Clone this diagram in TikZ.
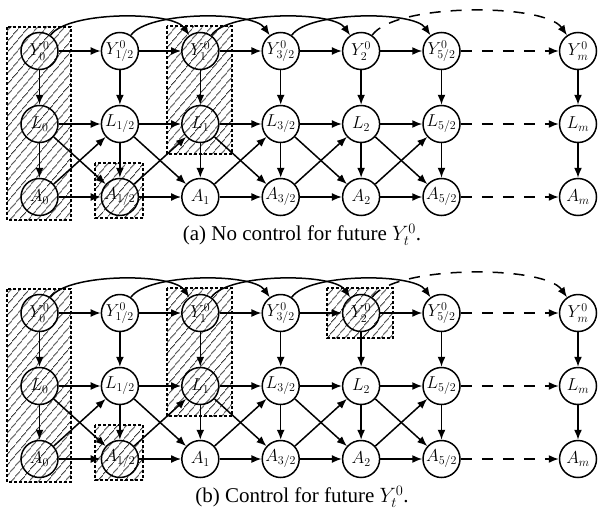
\documentclass[tikz,border=0pt]{standalone}
\usepackage{fontspec}
\setmainfont{Liberation Serif}
\usetikzlibrary{arrows.meta,patterns.meta}
\begin{document}
\begin{tikzpicture}[x=1pt,y=-1pt,
  vn/.style={circle,draw,line width=1.5pt,minimum size=37pt,inner sep=0pt,font=\fontsize{17}{17}\selectfont},
  arr/.style={line width=1.5pt,-{Latex[length=10pt,width=8pt]}},
  darr/.style={arr,dash pattern=on 11pt off 10pt},
  hatch/.style={draw,line width=1.1pt,dash pattern=on 3pt off 2pt,pattern={Lines[angle=50,distance=6.5pt,line width=1pt]},pattern color=black!80},
  captext/.style={font=\fontsize{21}{24}\selectfont}]
\useasboundingbox (0,0) rectangle (604,519);
% hatched regions
\foreach \o in {0,262}{
  \path[hatch] (7,27+\o) rectangle (71,220+\o);
  \path[hatch] (95,163+\o) rectangle (143,218+\o);
  \path[hatch] (167,26+\o) rectangle (232,154+\o);
}
\path[hatch] (327,288) rectangle (393,338);
% nodes
\foreach \p/\o in {a/0,b/262}{
  \foreach \k/\lab in {0/0,1/{1/2},2/1,3/{3/2},4/2,5/{5/2}}{
    \node[vn] (Y\p\k) at ({39.5+80.4*\k},{51+\o}) {$Y^0_{\lab}$};
    \node[vn] (L\p\k) at ({39.5+80.4*\k},{124+\o}) {$L_{\lab}$};
    \node[vn] (A\p\k) at ({39.5+80.4*\k},{197+\o}) {$A_{\lab}$};
  }
  \node[vn] (Y\p m) at (578,{51+\o}) {$Y^0_m$};
  \node[vn] (L\p m) at (578,{124+\o}) {$L_m$};
  \node[vn] (A\p m) at (578,{197+\o}) {$A_m$};
}
% edges
\foreach \p in {a,b}{
  \foreach \k [count=\n from 1] in {0,...,4}{
    \draw[arr] (Y\p\k) -- (Y\p\n);
    \draw[arr] (L\p\k) -- (L\p\n);
    \draw[arr] (A\p\k) -- (A\p\n);
    \draw[arr] (L\p\k) -- (A\p\n);
    \draw[arr] (A\p\k) -- (L\p\n);
  }
  \foreach \k in {0,...,5}{
    \draw[arr] (Y\p\k) -- (L\p\k);
    \draw[arr] (L\p\k) -- (A\p\k);
  }
  \foreach \k [count=\n from 2] in {0,...,3}{
    \draw[arr] (Y\p\k) to[out=55,in=125,looseness=0.55] (Y\p\n);
  }
  \draw[darr] (Y\p4) to[out=55,in=125,looseness=0.52] (Y\p m);
  \draw[darr] (Y\p5) -- (Y\p m);
  \draw[darr] (L\p5) -- (L\p m);
  \draw[darr] (A\p5) -- (A\p m);
  \draw[arr] (Y\p m) -- (L\p m);
  \draw[arr] (L\p m) -- (A\p m);
}
\node[captext] (capa) at (302,235) {(a) No control for future $Y^0_t$.};
\node[captext] (capb) at (302,497) {(b) Control for future $Y^0_t$.};
\end{tikzpicture}
\end{document}
